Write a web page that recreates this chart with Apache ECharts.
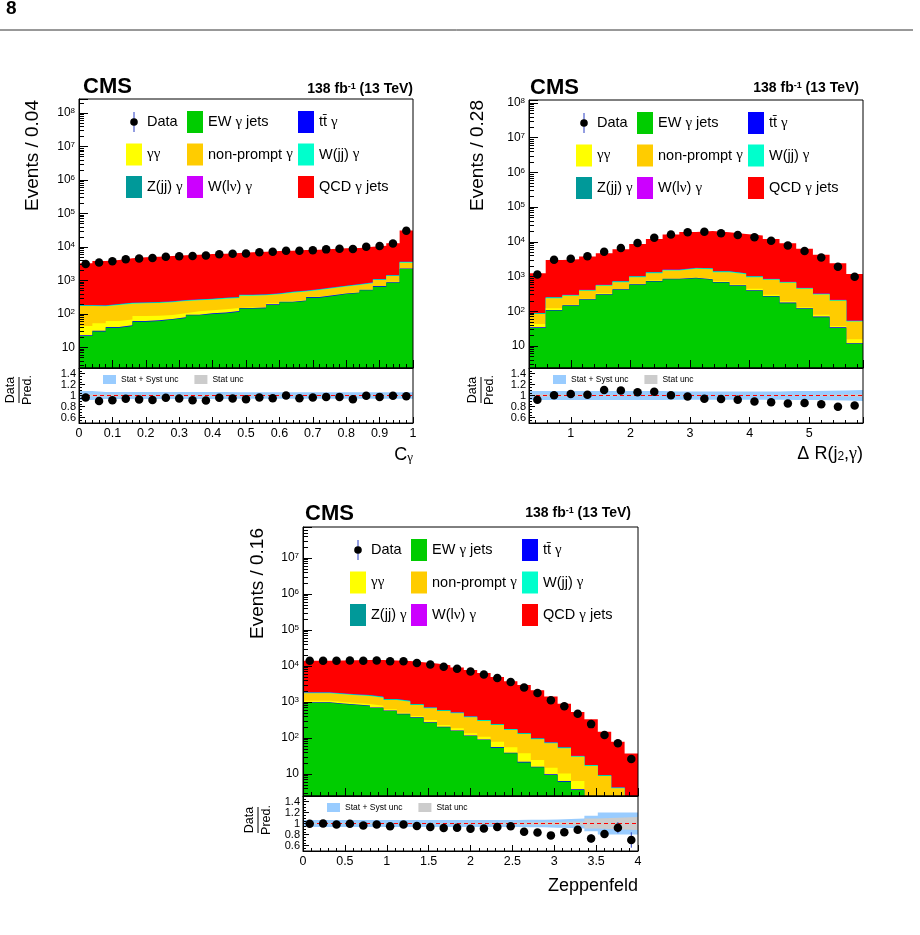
<!DOCTYPE html>
<html lang="en">
<head>
<meta charset="utf-8">
<title>EW gamma + jets control distributions</title>
<script src="https://cdn.jsdelivr.net/npm/echarts@6/dist/echarts.min.js"></script>
<style>
  body { margin: 0; background: #fff; }
  #chart { width: 920px; height: 935px; }
</style>
</head>
<body>
<div id="chart"></div>
<script>
// process names, stacking order bottom -> top
var procNames = ['EW γ jets', 'tt\u0304 γ', 'γγ', 'non-prompt γ', 'W(jj) γ', 'Z(jj) γ', 'W(lν) γ', 'QCD γ jets'];
var procColors = ['#00cc00', '#0000ff', '#ffff00', '#ffcc00', '#00ffcc', '#009999', '#cc00ff', '#ff0000'];
var legendCols = [['Data', 'γγ', 'Z(jj) γ'], ['EW γ jets', 'non-prompt γ', 'W(lν) γ'], ['tt\u0304 γ', 'W(jj) γ', 'QCD γ jets']];

// ---- C_gamma, 25 bins of 0.04 ----
var cgEW   = [22, 30, 39, 44, 59, 62, 68, 76, 91, 100, 105, 117, 145, 148, 186, 223, 244, 307, 345, 395, 424, 508, 654, 861, 2200];
var cgTTG  = [1, 1.5, 2, 2, 3, 3, 3, 4, 4, 5, 5, 6, 6, 7, 8, 10, 10, 13, 15, 16, 17, 20, 25, 30, 80];
var cgGG   = [21, 21.5, 21, 23, 25, 24, 22, 25, 25, 24, 28, 28, 7, 5, 14, 11, 4, 9, 9, 5, 13, 17, 7, 32, 20];
var cgNP   = [129, 116, 124, 134, 121, 124, 130, 139, 136, 139, 149, 150, 194, 201, 178, 189, 208, 191, 214, 240, 280, 278, 349, 438, 1100];
var cgWJJ  = [7, 7, 7, 8, 8, 9, 9, 10, 10, 11, 11, 12, 14, 14, 15, 17, 19, 21, 23, 26, 29, 33, 41, 54, 136];
var cgZJJ  = [3, 3, 4, 4, 4, 4, 4, 5, 5, 5, 6, 6, 7, 7, 8, 9, 9, 10, 12, 13, 15, 16, 21, 27, 68];
var cgWLNU = [2, 2, 2, 2, 2, 2, 2, 2, 3, 3, 3, 3, 3, 4, 4, 4, 5, 5, 6, 7, 7, 8, 10, 14, 34];
var cgQCD  = [3065, 3640, 3890, 4370, 4700, 4910, 5140, 5380, 5630, 5890, 6010, 6300, 6550, 6870, 7190, 7320, 7630, 7760, 8090, 8420, 8550, 9350, 9850, 11400, 27200];
var cgData = [3130, 3440, 3740, 4310, 4560, 4730, 5150, 5330, 5390, 5610, 6050, 6260, 6440, 6990, 7220, 7780, 7720, 8010, 8490, 8890, 8680, 10170, 10690, 12770, 30430];
var cgRatio = [0.963, 0.90, 0.914, 0.94, 0.926, 0.92, 0.957, 0.945, 0.914, 0.908, 0.957, 0.945, 0.93, 0.963, 0.95, 1.0, 0.95, 0.963, 0.975, 0.975, 0.93, 0.994, 0.975, 0.994, 0.988];
var cgErr  = [0.018, 0.017, 0.016, 0.015, 0.015, 0.015, 0.014, 0.014, 0.014, 0.013, 0.013, 0.013, 0.012, 0.012, 0.012, 0.011, 0.011, 0.011, 0.011, 0.011, 0.011, 0.01, 0.01, 0.009, 0.006];
var cgSyst = [0.08, 0.065, 0.065, 0.065, 0.065, 0.065, 0.065, 0.065, 0.065, 0.065, 0.065, 0.06, 0.06, 0.06, 0.06, 0.06, 0.06, 0.06, 0.06, 0.06, 0.06, 0.06, 0.06, 0.06, 0.06];
var cgStat = [0.02, 0.017, 0.016, 0.015, 0.015, 0.014, 0.014, 0.014, 0.013, 0.013, 0.013, 0.012, 0.012, 0.012, 0.012, 0.011, 0.011, 0.011, 0.011, 0.01, 0.01, 0.01, 0.01, 0.009, 0.006];

// ---- Delta R(j2, gamma), 20 bins of 0.28 ----
var drEW   = [33, 106, 144, 214, 299, 416, 579, 721, 843, 900, 805, 676, 542, 389, 267, 172, 118, 68, 33, 11.6];
var drTTG  = [1.5, 4, 6, 8, 11, 15, 20, 25, 30, 30, 28, 24, 20, 15, 11, 7, 5, 3, 1.5, 0.5];
var drGG   = [8.5, 13, 4, 7, 23, 4, 19, 25, 8, 12, 29, 38, 30, 40, 21, 17, 9, 8, 3.5, 3.7];
var drNP   = [40, 116, 125, 160, 209, 255, 344, 482, 615, 729, 771, 602, 583, 518, 506, 465, 312, 226, 162, 35];
var drWJJ  = [4, 10, 12, 16, 22, 28, 38, 50, 60, 67, 65, 54, 47, 38, 32, 26, 18, 12, 8, 2];
var drZJJ  = [2, 5, 6, 8, 11, 14, 19, 25, 30, 33, 33, 27, 24, 19, 16, 13, 9, 6, 4, 1];
var drWLNU = [1, 2, 3, 4, 5, 7, 10, 12, 15, 17, 16, 13, 12, 10, 8, 7, 4, 3, 2, 0.5];
var drQCD  = [1160, 2770, 2870, 3370, 4140, 5410, 7720, 10860, 14660, 17610, 18950, 17540, 15730, 14170, 11340, 8450, 5820, 3900, 2210, 1140];
var drData = [1150, 3050, 3250, 3840, 5190, 6700, 9260, 13050, 16360, 19010, 19500, 17760, 15680, 13530, 10710, 7810, 5450, 3550, 1930, 985];
var drRatio = [0.923, 1.006, 1.026, 1.013, 1.10, 1.09, 1.058, 1.07, 1.006, 0.98, 0.942, 0.936, 0.923, 0.89, 0.878, 0.853, 0.865, 0.84, 0.795, 0.82];
var drErr  = [0.03, 0.018, 0.018, 0.016, 0.014, 0.012, 0.01, 0.009, 0.008, 0.007, 0.007, 0.008, 0.008, 0.009, 0.01, 0.011, 0.014, 0.017, 0.023, 0.032];
var drSyst = [0.08, 0.08, 0.08, 0.08, 0.08, 0.08, 0.08, 0.08, 0.075, 0.075, 0.075, 0.075, 0.075, 0.075, 0.075, 0.08, 0.08, 0.085, 0.09, 0.1];
var drStat = [0.02, 0.012, 0.012, 0.011, 0.01, 0.008, 0.007, 0.006, 0.005, 0.005, 0.005, 0.005, 0.006, 0.006, 0.007, 0.008, 0.01, 0.012, 0.016, 0.022];

// ---- Zeppenfeld, 25 bins of 0.16 ----
var zpEW   = [958, 958, 880, 826, 774, 681, 562, 454, 367, 267, 198, 156, 114, 88, 54, 37.5, 21, 15.3, 9.4, 6.1, 3.6, 1.8, 1, 0.5, 0.3];
var zpTTG  = [30, 30, 28, 26, 25, 22, 18, 15, 12, 9, 7, 5, 4, 3, 2, 1.5, 1, 0.7, 0.4, 0.3, 0.2, 0.1, 0.05, 0.03, 0.02];
var zpGG   = [102, 102, 92, 85, 81, 87, 45, 36, 29, 40, 25, 25, 17, 18, 23, 16, 15.5, 8.5, 5.2, 4, 2.6, 0.4, 0.45, 0.27, 0.08];
var zpNP   = [652, 652, 633, 594, 588, 530, 512, 516, 418, 351, 332, 298, 240, 188, 151, 112, 91.5, 67.5, 56, 41.6, 23.6, 14.4, 7.3, 3.2, 1.4];
var zpWJJ  = [70, 70, 65, 61, 59, 53, 45, 41, 33, 27, 22, 19, 15, 12, 9, 7, 5, 4, 3, 2, 1.2, 0.7, 0.35, 0.16, 0.07];
var zpZJJ  = [35, 35, 33, 31, 29, 26, 23, 20, 17, 13, 11, 10, 8, 6, 5, 3, 3, 2, 1.4, 1, 0.6, 0.3, 0.2, 0.08, 0.04];
var zpWLNU = [17, 17, 16, 15, 15, 13, 11, 10, 8, 7, 6, 5, 4, 3, 2, 2, 1, 1, 0.7, 0.5, 0.3, 0.2, 0.1, 0.05, 0.02];
var zpQCD  = [12140, 12200, 12450, 12760, 13030, 13190, 13080, 12680, 11920, 10990, 9850, 8630, 7400, 6080, 4700, 3620, 2820, 2020, 1354, 844, 498, 316, 140, 74, 35];
var zpData = [13950, 14060, 13900, 14300, 14050, 14300, 13600, 13500, 12200, 10950, 9580, 8450, 7060, 5830, 4640, 3610, 2510, 1770, 1120, 757, 470, 243, 122, 72, 26];
var zpRatio = [0.994, 1.0, 0.98, 0.994, 0.962, 0.98, 0.95, 0.98, 0.956, 0.937, 0.917, 0.924, 0.905, 0.911, 0.937, 0.95, 0.848, 0.835, 0.784, 0.841, 0.886, 0.727, 0.81, 0.924, 0.70];
var zpErr  = [0.01, 0.01, 0.01, 0.01, 0.01, 0.01, 0.01, 0.01, 0.011, 0.012, 0.013, 0.014, 0.016, 0.017, 0.02, 0.022, 0.026, 0.031, 0.04, 0.048, 0.06, 0.08, 0.07, 0.1, 0.14];
var zpSyst = [0.065, 0.065, 0.065, 0.065, 0.065, 0.065, 0.065, 0.065, 0.065, 0.065, 0.065, 0.065, 0.065, 0.065, 0.065, 0.065, 0.07, 0.07, 0.075, 0.08, 0.09, 0.14, 0.2, 0.2, 0.2];
var zpStat = [0.008, 0.008, 0.008, 0.008, 0.008, 0.008, 0.008, 0.009, 0.009, 0.01, 0.011, 0.012, 0.013, 0.015, 0.017, 0.02, 0.023, 0.026, 0.029, 0.032, 0.035, 0.09, 0.1, 0.11, 0.12];

var FONT = '"Liberation Sans", Arial, Helvetica, sans-serif';
var SERIF = '"Liberation Serif", "DejaVu Serif", serif';

var panels = [
  { comps: [cgEW, cgTTG, cgGG, cgNP, cgWJJ, cgZJJ, cgWLNU, cgQCD], data: cgData, ratio: cgRatio, err: cgErr, syst: cgSyst, stat: cgStat,
    xMin: 0, xMax: 1, binW: 0.04, xSplit: 10, edgeLabels: true, yMin: 2.44, yMax: 2.62e8,
    left: 79, top: 99, width: 334, mainH: 269, ratioH: 55,
    yTitle: 'Events / 0.04', yTitleAt: [33, 100], ratioTitleAt: [19, 390],
    xTitle: '{t|C}{gs|γ}', xTitleAt: [413, 455], cmsAt: [83, 87], lumiAt: [413, 89] },
  { comps: [drEW, drTTG, drGG, drNP, drWJJ, drZJJ, drWLNU, drQCD], data: drData, ratio: drRatio, err: drErr, syst: drSyst, stat: drStat,
    xMin: 0.3, xMax: 5.9, binW: 0.28, xSplit: 6, edgeLabels: false, yMin: 2.33, yMax: 1.22e8,
    left: 529, top: 100, width: 334, mainH: 268, ratioH: 55,
    yTitle: 'Events / 0.28', yTitleAt: [478, 100], ratioTitleAt: [481, 390],
    xTitle: '{t|Δ R(j}{sub|2}{t|,}{g|γ}{t|)}', xTitleAt: [863, 454], cmsAt: [530, 88], lumiAt: [859, 88] },
  { comps: [zpEW, zpTTG, zpGG, zpNP, zpWJJ, zpZJJ, zpWLNU, zpQCD], data: zpData, ratio: zpRatio, err: zpErr, syst: zpSyst, stat: zpStat,
    xMin: 0, xMax: 4, binW: 0.16, xSplit: 8, edgeLabels: true, yMin: 2.45, yMax: 7.26e7,
    left: 303, top: 527, width: 335, mainH: 269, ratioH: 55,
    yTitle: 'Events / 0.16', yTitleAt: [258, 528], ratioTitleAt: [258, 820],
    xTitle: '{t|Zeppenfeld}', xTitleAt: [638, 886], cmsAt: [305, 514], lumiAt: [631, 513] }
];

var dataIcon = 'image://data:image/svg+xml;charset=utf-8,' + encodeURIComponent(
  '<svg xmlns="http://www.w3.org/2000/svg" width="16" height="22">' +
  '<line x1="8" y1="1" x2="8" y2="21" stroke="#2b3fc4" stroke-width="1"/>' +
  '<circle cx="8" cy="11" r="3.8" fill="#000"/></svg>');

function greek(s) { return s.replace(/γ/g, '{g|γ}').replace(/ν/g, '{g|ν}'); }

function logLabel(v) {
  var e = Math.round(Math.log(v) / Math.LN10);
  return e === 1 ? '{n|10}' : '{b|10}{s|' + e + '}';
}

function valueX(g, p, labels) {
  return {
    type: 'value', gridIndex: g, position: 'bottom', min: p.xMin, max: p.xMax, splitNumber: p.xSplit, z: 5,
    axisLine: { show: true, onZero: false, lineStyle: { color: '#000', width: 1 } },
    axisTick: { show: true, inside: true, length: labels ? 6 : 8, lineStyle: { color: '#000' } },
    minorTick: { show: true, splitNumber: 5, length: labels ? 3 : 4, lineStyle: { color: '#000' } },
    splitLine: { show: false },
    axisLabel: { show: labels, color: '#000', fontFamily: FONT, fontSize: 12.5, margin: 4,
                 showMinLabel: p.edgeLabels, showMaxLabel: p.edgeLabels }
  };
}

function logY(g, p) {
  return {
    type: 'log', logBase: 10, gridIndex: g, min: p.yMin, max: p.yMax, z: 5,
    axisLine: { show: true, onZero: false, lineStyle: { color: '#000' } },
    axisTick: { show: true, inside: true, length: 9, lineStyle: { color: '#000' } },
    minorTick: { show: true, splitNumber: 9, length: 5, lineStyle: { color: '#000' } },
    splitLine: { show: false },
    axisLabel: {
      color: '#000', margin: 4, showMinLabel: false, showMaxLabel: false, formatter: logLabel,
      rich: {
        n: { fontFamily: FONT, fontSize: 12, color: '#000' },
        b: { fontFamily: FONT, fontSize: 12, color: '#000', lineHeight: 12, padding: [3, 0, 0, 0], verticalAlign: 'bottom' },
        s: { fontFamily: FONT, fontSize: 8, color: '#000', lineHeight: 8, verticalAlign: 'top' }
      }
    }
  };
}

function ratioY(g) {
  return {
    type: 'value', gridIndex: g, min: 0.5, max: 1.5, splitNumber: 5, z: 5,
    axisLine: { show: true, onZero: false, lineStyle: { color: '#000' } },
    axisTick: { show: true, inside: true, length: 6, lineStyle: { color: '#000' } },
    minorTick: { show: true, splitNumber: 4, length: 3, lineStyle: { color: '#000' } },
    splitLine: { show: false },
    axisLabel: {
      color: '#000', fontFamily: FONT, fontSize: 11, margin: 3, showMinLabel: false, showMaxLabel: false,
      formatter: function (v) { return Math.abs(v - 1) < 1e-9 ? '1' : v.toFixed(1); }
    }
  };
}

// histogram outline as step points on bin edges (last value repeated at the right edge)
function steps(p, vals) {
  var pts = vals.map(function (v, i) { return [+(p.xMin + i * p.binW).toFixed(4), v]; });
  pts.push([p.xMax, vals[vals.length - 1]]);
  return pts;
}

// filled step area from the bottom of the axis up to the given values
function histSeries(name, color, xi, yi, pts) {
  return {
    type: 'line', name: name, xAxisIndex: xi, yAxisIndex: yi, data: pts, step: 'end',
    symbol: 'none', showSymbol: false, silent: true, clip: true,
    lineStyle: { width: 0, color: color }, itemStyle: { color: color },
    areaStyle: { color: color, opacity: 1, origin: 'start' }
  };
}

var option = {
  animation: false,
  backgroundColor: '#ffffff',
  textStyle: { fontFamily: FONT, color: '#000' },
  grid: [], xAxis: [], yAxis: [], legend: [], series: [],
  graphic: [
    { type: 'text', x: 6, y: 9, style: { text: '8', fontFamily: FONT, fontWeight: 'bold', fontSize: 19, fill: '#000', verticalAlign: 'middle' } },
    { type: 'line', shape: { x1: 0, y1: 30, x2: 913, y2: 30 }, style: { stroke: '#333', lineWidth: 1 } }
  ]
};

panels.forEach(function (p, pi) {
  var centers = p.data.map(function (d, i) { return +(p.xMin + (i + 0.5) * p.binW).toFixed(4); });

  var gMain = option.grid.length, gRatio = gMain + 1;
  [[p.top, p.mainH], [p.top + p.mainH, p.ratioH]].forEach(function (r) {
    option.grid.push({ left: p.left, top: r[0], width: p.width, height: r[1], show: true,
                       borderColor: '#000', borderWidth: 1, backgroundColor: 'transparent', z: 10 });
  });

  var xMain = option.xAxis.length, xRatio = xMain + 1;
  option.xAxis.push(valueX(gMain, p, false), valueX(gRatio, p, true));
  var yMain = option.yAxis.length, yRatio = yMain + 1;
  option.yAxis.push(logY(gMain, p), ratioY(gRatio));

  // stacked MC: cumulative sums drawn largest first
  var run = p.comps[0].map(function () { return 0; });
  var cum = p.comps.map(function (c) {
    run = run.map(function (v, i) { return v + c[i]; });
    return run;
  });
  for (var k = cum.length - 1; k >= 0; k--) {
    option.series.push(histSeries(procNames[k], procColors[k], xMain, yMain, steps(p, cum[k])));
  }
  option.series.push({
    type: 'scatter', name: 'Data', xAxisIndex: xMain, yAxisIndex: yMain,
    data: p.data.map(function (d, i) { return [centers[i], d]; }),
    symbol: 'circle', symbolSize: 8.5, itemStyle: { color: '#000', opacity: 1 }, z: 4, silent: true
  });

  // ratio panel bands, layered from the bottom:
  // blue to 1+syst, gray to 1+stat, blue to 1-stat, white to 1-syst
  function shifted(errs, sign) { return errs.map(function (e) { return 1 + sign * e; }); }
  option.series.push(
    histSeries('Stat + Syst unc', '#99ccff', xRatio, yRatio, steps(p, shifted(p.syst, 1))),
    histSeries('Stat unc', '#cccccc', xRatio, yRatio, steps(p, shifted(p.stat, 1))),
    histSeries('_synLow', '#99ccff', xRatio, yRatio, steps(p, shifted(p.stat, -1))),
    histSeries('_blank', '#ffffff', xRatio, yRatio, steps(p, shifted(p.syst, -1)))
  );
  // reference line at unity
  option.series.push({
    type: 'line', name: '_unity', xAxisIndex: xRatio, yAxisIndex: yRatio, data: [[p.xMin, 1], [p.xMax, 1]],
    symbol: 'none', showSymbol: false, silent: true, z: 3,
    lineStyle: { color: '#ff0000', type: [4, 3], width: 1, opacity: 1 }
  });
  option.series.push({
    type: 'custom', name: '_err', xAxisIndex: xRatio, yAxisIndex: yRatio, silent: true, z: 3,
    data: p.ratio.map(function (r, i) { return [centers[i], r, p.err[i]]; }),
    encode: { x: 0, y: 1 },
    renderItem: function (params, api) {
      var a = api.coord([api.value(0), api.value(1) - api.value(2)]);
      var b = api.coord([api.value(0), api.value(1) + api.value(2)]);
      return { type: 'line', shape: { x1: a[0], y1: a[1], x2: b[0], y2: b[1] }, style: { stroke: '#2b3fc4', lineWidth: 1 } };
    }
  });
  option.series.push({
    type: 'scatter', name: '_ratio', xAxisIndex: xRatio, yAxisIndex: yRatio,
    data: p.ratio.map(function (r, i) { return [centers[i], r]; }),
    symbol: 'circle', symbolSize: 8.5, itemStyle: { color: '#000', opacity: 1 }, z: 4, silent: true
  });

  // legends
  var colLeft = [47, 108, 219];
  legendCols.forEach(function (names, c) {
    option.legend.push({
      orient: 'vertical', left: p.left + colLeft[c], top: p.top + 12, itemWidth: 16, itemHeight: 22, itemGap: 10.5,
      selectedMode: false, icon: 'rect', padding: 0,
      data: names.map(function (nm) { return nm === 'Data' ? { name: nm, icon: dataIcon } : { name: nm }; }),
      formatter: greek,
      textStyle: { fontFamily: FONT, fontSize: 14.5, color: '#000', rich: { g: { fontFamily: SERIF, fontSize: 15, color: '#000' } } }
    });
  });
  option.legend.push({
    orient: 'horizontal', left: p.left + 24, top: p.top + p.mainH + 7, itemWidth: 13, itemHeight: 9, itemGap: 16,
    selectedMode: false, icon: 'rect', padding: 0, data: ['Stat + Syst unc', 'Stat unc'],
    textStyle: { fontFamily: FONT, fontSize: 8.5, color: '#000' }
  });

  // texts
  option.graphic.push(
    { type: 'text', x: p.cmsAt[0], y: p.cmsAt[1],
      style: { text: 'CMS', fontFamily: FONT, fontWeight: 'bold', fontSize: 22, fill: '#000', verticalAlign: 'middle' } },
    { type: 'text', x: p.lumiAt[0], y: p.lumiAt[1],
      style: { text: '{t|138 fb}{s|-1}{t| (13 TeV)}', align: 'right', verticalAlign: 'middle', fill: '#000',
               rich: { t: { fontFamily: FONT, fontWeight: 'bold', fontSize: 14, lineHeight: 14, padding: [2, 0, 0, 0], verticalAlign: 'bottom' },
                       s: { fontFamily: FONT, fontWeight: 'bold', fontSize: 9, lineHeight: 9, verticalAlign: 'top' } } } },
    { type: 'text', x: p.yTitleAt[0], y: p.yTitleAt[1], rotation: Math.PI / 2,
      style: { text: p.yTitle, fontFamily: FONT, fontSize: 19, fill: '#000', align: 'right', verticalAlign: 'middle' } },
    { type: 'group', x: p.ratioTitleAt[0], y: p.ratioTitleAt[1], rotation: Math.PI / 2,
      children: [
        { type: 'text', x: 0, y: -8.5, style: { text: 'Data', fontFamily: FONT, fontSize: 12.5, fill: '#000', align: 'center', verticalAlign: 'middle' } },
        { type: 'text', x: 0, y: 9, style: { text: 'Pred.', fontFamily: FONT, fontSize: 12.5, fill: '#000', align: 'center', verticalAlign: 'middle' } },
        { type: 'line', shape: { x1: -13, y1: 0, x2: 13, y2: 0 }, style: { stroke: '#000', lineWidth: 1 } }
      ] },
    { type: 'text', x: p.xTitleAt[0], y: p.xTitleAt[1],
      style: { text: p.xTitle, align: 'right', verticalAlign: 'middle', fill: '#000',
               rich: { t: { fontFamily: FONT, fontSize: 18, lineHeight: 18, verticalAlign: 'top' },
                       g: { fontFamily: SERIF, fontSize: 18, lineHeight: 18, verticalAlign: 'top' },
                       gs: { fontFamily: SERIF, fontSize: 13, lineHeight: 13, padding: [10, 0, 0, 0], verticalAlign: 'bottom' },
                       sub: { fontFamily: FONT, fontSize: 12, lineHeight: 12, padding: [10, 0, 0, 0], verticalAlign: 'bottom' } } } }
  );
});

var chart = echarts.init(document.getElementById('chart'), null, { renderer: 'canvas' });
chart.setOption(option);
</script>
</body>
</html>
